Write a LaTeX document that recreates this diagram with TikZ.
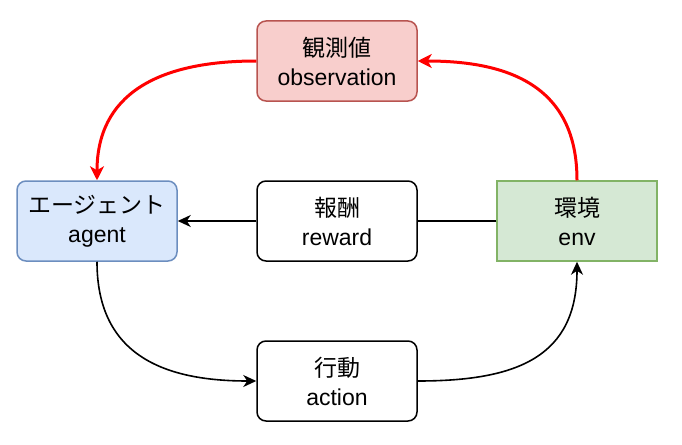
\documentclass[tikz,border=0pt]{standalone}
\usepackage{fontspec}
\setmainfont{Liberation Sans}
\newfontfamily\jp{Noto Sans CJK JP}
\usetikzlibrary{arrows.meta}
\definecolor{obsfill}{HTML}{F8CECC}
\definecolor{obsline}{HTML}{B85450}
\definecolor{agentfill}{HTML}{DAE8FC}
\definecolor{agentline}{HTML}{6C8EBF}
\definecolor{envfill}{HTML}{D5E8D4}
\definecolor{envline}{HTML}{82B366}
\begin{document}
\begin{tikzpicture}[x=1pt,y=-1pt,
	box/.style={draw,line width=1.5pt,minimum width=160pt,minimum height=80pt,align=center,
		font=\fontsize{23}{29}\selectfont,rounded corners=9pt},
	flow/.style={line width=1.6pt,-{Stealth[length=13pt,width=12pt,inset=4pt]}},
	loop/.style={line width=3pt,red,-{Stealth[length=14pt,width=14pt,inset=4pt]}}]
	\useasboundingbox (0,0) rectangle (682,444);
		\node[box,fill=obsfill,draw=obsline](obs) at (337,61) {{\jp 観測値}\\observation};
		\node[box,fill=agentfill,draw=agentline](agent) at (97,221) {{\jp エージェント}\\agent};
		\node[box](reward) at (337,221) {{\jp 報酬}\\reward};
		\node[box,fill=envfill,draw=envline,sharp corners](env) at (577,221) {{\jp 環境}\\env};
		\node[box](act) at (337,381) {{\jp 行動}\\action};
		% observation loop
		\draw[loop] (env.north) .. controls +(0,-95) and +(90,0) .. (obs.east);
		\draw[loop] (obs.west) .. controls +(-100,0) and +(0,-85) .. (agent.north);
		% reward and action
		\draw[line width=1.6pt] (env.west)--(reward.east);
		\draw[flow] (reward.west)--(agent.east);
		\draw[flow] (agent.south) .. controls +(0,95) and +(-90,0) .. (act.west);
		\draw[flow] (act.east) .. controls +(100,0) and +(0,95) .. (env.south);
	\end{tikzpicture}
\end{document}
